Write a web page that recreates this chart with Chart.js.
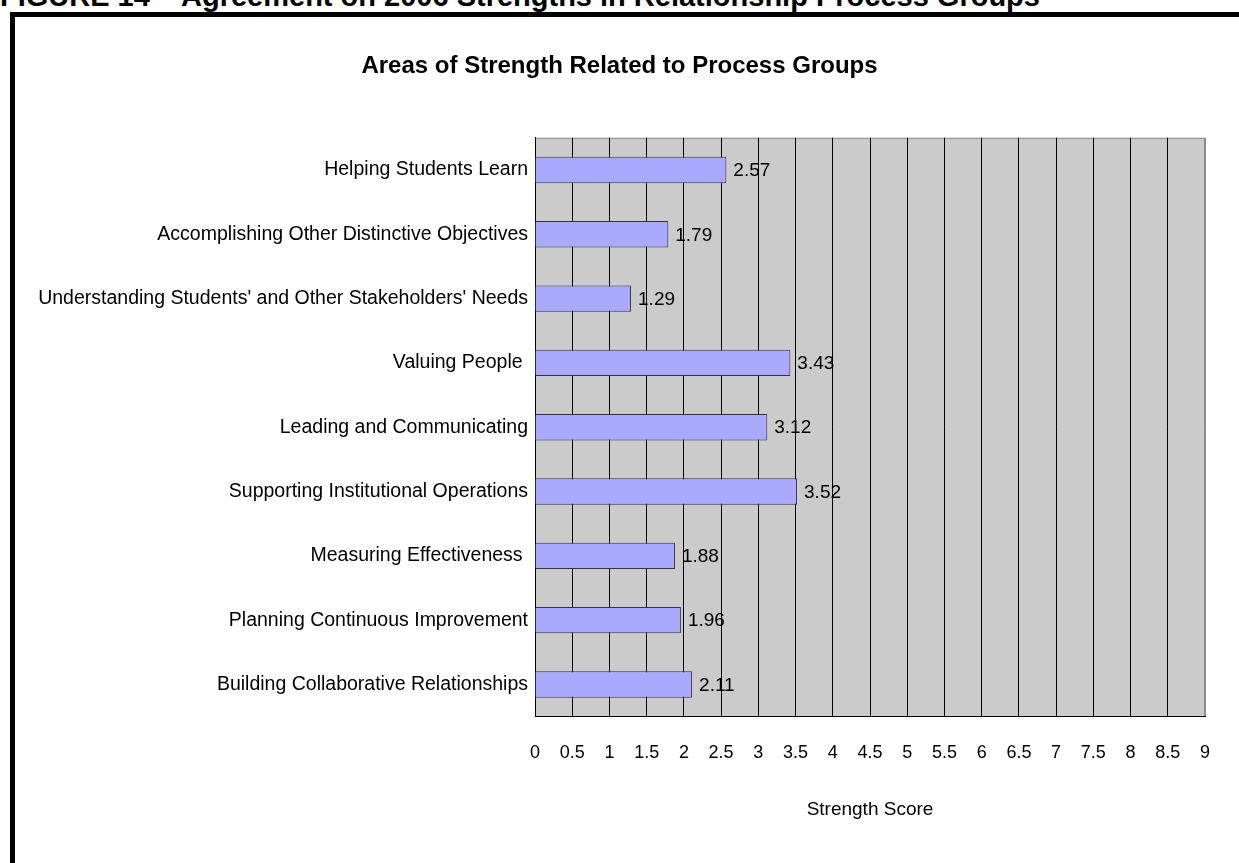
<!DOCTYPE html>
<html lang="en">
<head>
<meta charset="UTF-8" />
<title>Areas of Strength Related to Process Groups</title>
<script src="https://cdn.jsdelivr.net/npm/chart.js"></script>
<style>
  html, body {
    margin: 0;
    padding: 0;
    background: #fff;
    overflow: hidden;
  }
  #heading {
    position: absolute;
    left: 0;
    top: -18px;
    font: bold 29px "Liberation Sans", Arial, sans-serif;
    line-height: 1;
    white-space: nowrap;
    color: #000;
  }
  #frame {
    position: absolute;
    left: 10px;
    top: 12px;
    width: 1300px;
    height: 900px;
    border-left: 5px solid #000;
    border-top: 5px solid #000;
  }
  #wrap {
    position: absolute;
    left: 0;
    top: 0;
    width: 1239px;
    height: 863px;
  }
</style>
</head>
<body>

<div id="heading">FIGURE 14 – Agreement on 2006 Strengths in Relationship Process Groups</div>
<div id="frame"></div>
<div id="wrap"><canvas id="strengthChart" width="1239" height="863"></canvas></div>

<script>
  const categories = [
    'Helping Students Learn',
    'Accomplishing Other Distinctive Objectives',
    "Understanding Students' and Other Stakeholders' Needs",
    'Valuing People ',
    'Leading and Communicating',
    'Supporting Institutional Operations',
    'Measuring Effectiveness ',
    'Planning Continuous Improvement',
    'Building Collaborative Relationships'
  ];
  const strengthScores = [2.57, 1.79, 1.29, 3.43, 3.12, 3.52, 1.88, 1.96, 2.11];
  const xMin = 0;
  const xMax = 9;
  const xStep = 0.5;

  const sans = '"Liberation Sans", Arial, sans-serif';

  // grey plot background + grey top/right edge
  const plotBackground = {
    id: 'plotBackground',
    beforeDraw(chart) {
      const { ctx, chartArea: a } = chart;
      ctx.save();
      ctx.fillStyle = '#CBCBCB';
      ctx.fillRect(a.left, a.top, a.right - a.left, a.bottom - a.top);
      ctx.strokeStyle = '#8C8C8C';
      ctx.lineWidth = 1;
      ctx.beginPath();
      ctx.moveTo(a.left, a.top + 0.5);
      ctx.lineTo(a.right - 0.5, a.top + 0.5);
      ctx.lineTo(a.right - 0.5, a.bottom);
      ctx.stroke();
      ctx.restore();
    }
  };

  // value printed just past the end of each bar
  const barValues = {
    id: 'barValues',
    afterDatasetsDraw(chart) {
      const { ctx } = chart;
      const meta = chart.getDatasetMeta(0);
      ctx.save();
      ctx.font = '19px ' + sans;
      ctx.fillStyle = '#000';
      ctx.textAlign = 'left';
      ctx.textBaseline = 'middle';
      meta.data.forEach((bar, i) => {
        ctx.fillText(strengthScores[i].toFixed(2), bar.x + 7, bar.y + 1);
      });
      ctx.restore();
    }
  };

  new Chart(document.getElementById('strengthChart'), {
    type: 'bar',
    data: {
      labels: categories,
      datasets: [{
        data: strengthScores,
        backgroundColor: '#A8A9FF',
        borderColor: '#333344',
        borderWidth: 1,
        barPercentage: 0.41,
        categoryPercentage: 1
      }]
    },
    options: {
      indexAxis: 'y',
      responsive: false,
      animation: false,
      events: [],
      layout: { padding: { left: 34, right: 34, top: 0, bottom: 42 } },
      plugins: {
        legend: { display: false },
        tooltip: { enabled: false },
        title: {
          display: true,
          text: 'Areas of Strength Related to Process Groups',
          color: '#000',
          font: { family: sans, size: 24, weight: 'bold' },
          padding: { top: 52, bottom: 57 }
        }
      },
      scales: {
        x: {
          min: xMin,
          max: xMax,
          border: { display: true, color: '#000', width: 1 },
          grid: {
            drawTicks: false,
            color: ctx => (ctx.tick && ctx.tick.value === xMax ? '#8C8C8C' : '#000'),
            lineWidth: 1
          },
          ticks: {
            stepSize: xStep,
            autoSkip: false,
            maxRotation: 0,
            padding: 26,
            color: '#000',
            font: { family: sans, size: 18 },
            callback: value => String(value)
          },
          title: {
            display: true,
            text: 'Strength Score',
            color: '#000',
            font: { family: sans, size: 19 },
            padding: { top: 8, bottom: 0 }
          }
        },
        y: {
          border: { display: true, color: '#000', width: 1 },
          grid: { display: false, drawTicks: false },
          ticks: {
            padding: 7,
            color: '#000',
            font: { family: sans, size: 19.5 }
          },
          afterFit(scale) {
            scale.width = 501;
          }
        }
      }
    },
    plugins: [plotBackground, barValues]
  });
</script>

</body>
</html>
